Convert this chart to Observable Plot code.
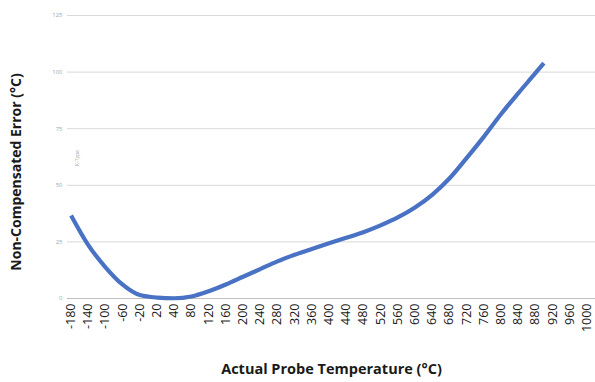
<!DOCTYPE html>
<html>
<head>
<meta charset="utf-8">
<script src="https://cdn.jsdelivr.net/npm/d3@7"></script>
<script src="https://cdn.jsdelivr.net/npm/@observablehq/plot@0.6"></script>
<style>
  html, body { margin: 0; padding: 0; background: #fff; }
</style>
</head>
<body>
<div id="chart"></div>
<script>
// Category labels on the x axis (evenly spaced, as in the original)
const tickLabels = [-180, -140, -100, -60, -20, 20, 40, 80, 120, 160, 200, 240, 280, 320, 360, 400,
  440, 480, 520, 560, 600, 640, 680, 720, 760, 800, 840, 880, 920, 960, 1000];
// Series: actual probe temperature (°C) and non-compensated error (°C)
const temps = [-180, -140, -100, -60, -20, 20, 40, 80, 120, 160, 200, 240, 280, 320, 360, 400,
  440, 480, 520, 560, 600, 640, 680, 720, 760, 800, 840, 880, 900];
const errors = [36.7, 23.6, 13.8, 6.1, 1.5, 0.4, 0.1, 0.9, 3.2, 6.2, 9.6, 13.0, 16.4, 19.3, 21.9, 24.4,
  26.8, 29.3, 32.3, 35.8, 40.2, 45.8, 53.0, 62.0, 71.4, 81.4, 90.6, 99.5, 104.0];
const yTicks = [0, 25, 50, 75, 100, 125];
const seriesLabel = "K-Type";
const xTitle = "Actual Probe Temperature (°C)";
const yTitle = "Non-Compensated Error (°C)";

// map a temperature onto the evenly spaced category positions
const catPos = d3.scaleLinear().domain(tickLabels).range(d3.range(tickLabels.length));
const data = temps.map((t, i) => ({pos: catPos(t), err: errors[i]}));
const tickIdx = d3.range(tickLabels.length);

const font = "'Open Sans', 'Liberation Sans', sans-serif";

const chart = Plot.plot({
  width: 595,
  height: 382,
  marginLeft: 67,
  marginRight: 0,
  marginTop: 15,
  marginBottom: 84,
  style: {fontFamily: font, background: "#fff"},
  x: {type: "linear", domain: [-0.21, 30.5], axis: null},
  y: {type: "linear", domain: [0, 125], axis: null},
  marks: [
    Plot.ruleY(yTicks.filter(d => d > 0), {stroke: "#d9d9d9", strokeWidth: 1}),
    Plot.ruleY([0], {stroke: "#bfbfbf", strokeWidth: 1}),
    Plot.text(yTicks, {y: d => d, text: d => String(d), frameAnchor: "left", dx: -5,
      textAnchor: "end", fontSize: 6, fill: "#a6a6a6"}),
    Plot.text(tickIdx, {x: d => d, text: d => String(tickLabels[d]), frameAnchor: "bottom",
      rotate: -90, textAnchor: "end", lineAnchor: "middle", dy: 5, fontSize: 12.5, fill: "#1a1a1a"}),
    Plot.line(data, {x: "pos", y: "err", stroke: "#4a72c4", strokeWidth: 4.2, curve: "monotone-x",
      strokeLinecap: "butt"}),
    Plot.text([seriesLabel], {x: 0, y: 62, text: d => d, rotate: -90, dx: 6, fontSize: 5,
      fill: "#a6a6a6", lineAnchor: "middle", textAnchor: "middle"}),
    Plot.text([xTitle], {text: d => d, frameAnchor: "bottom", dy: 71, fontSize: 14.5,
      fontWeight: "bold", fill: "#1a1a1a", lineAnchor: "middle", textAnchor: "middle"}),
    Plot.text([yTitle], {text: d => d, frameAnchor: "left", dx: -51, dy: 15, rotate: -90,
      fontSize: 14, fontWeight: "bold", fill: "#1a1a1a", lineAnchor: "middle", textAnchor: "middle"})
  ]
});
document.getElementById("chart").appendChild(chart);
</script>
</body>
</html>
